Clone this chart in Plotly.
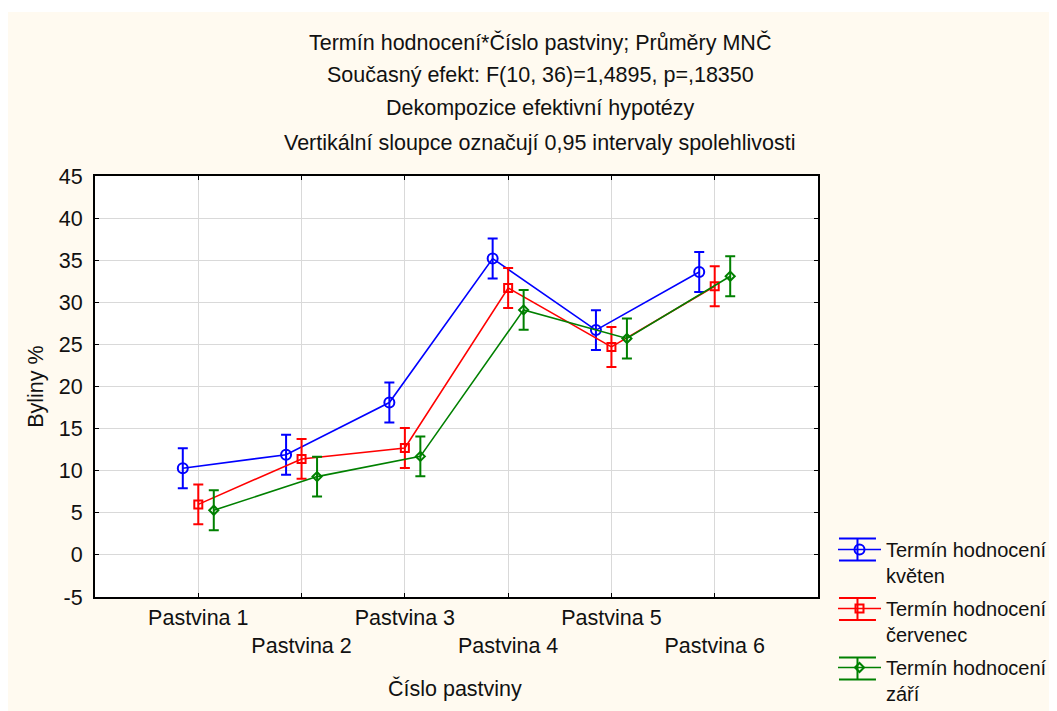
import plotly.graph_objects as go

categories = ["Pastvina 1", "Pastvina 2", "Pastvina 3", "Pastvina 4", "Pastvina 5", "Pastvina 6"]
series_names = ["Termín hodnocení<br>květen", "Termín hodnocení<br>červenec", "Termín hodnocení<br>září"]
kveten = [10.3, 11.9, 18.1, 35.2, 26.7, 33.6]
cervenec = [6.0, 11.4, 12.7, 31.7, 24.7, 31.9]
zari = [5.3, 9.3, 11.7, 29.1, 25.7, 33.1]
ci_kveten = [2.37, 2.37, 2.37, 2.37, 2.37, 2.37]
ci_cervenec = [2.37, 2.37, 2.37, 2.37, 2.37, 2.37]
ci_zari = [2.37, 2.37, 2.37, 2.37, 2.37, 2.37]
y_ticks = [-5, 0, 5, 10, 15, 20, 25, 30, 35, 40, 45]
title_lines = [
    "Termín hodnocení*Číslo pastviny; Průměry MNČ",
    "Současný efekt: F(10, 36)=1,4895, p=,18350",
    "Dekompozice efektivní hypotézy",
    "Vertikální sloupce označují 0,95 intervaly spolehlivosti",
]
x_title = "Číslo pastviny"
y_title = "Byliny %"

FONT = "Liberation Sans, Arial, sans-serif"
FS = 21.5
LFS = 20
CREAM = "#FFFAF0"
TXT = "#111111"

series = [
    (series_names[0], kveten, ci_kveten, "#0000FF", "circle-open", 10, -0.15),
    (series_names[1], cervenec, ci_cervenec, "#FF0000", "square-open", 8, 0.0),
    (series_names[2], zari, ci_zari, "#008000", "diamond-open", 7, 0.15),
]

fig = go.Figure()
for k, (name, vals, ci, color, sym, msize, off) in enumerate(series):
    xs = [i + 1 + off for i in range(len(categories))]
    fig.add_trace(go.Scatter(
        x=xs, y=vals, name=name, mode="lines+markers", legendgroup="g%d" % k,
        line=dict(color=color, width=1.6),
        marker=dict(symbol=sym, size=msize, color=color, line=dict(color=color, width=2)),
        error_y=dict(type="data", array=ci, visible=True, color=color, thickness=2, width=5),
    ))

# tick labels staggered on two rows
ticktext = [c if i % 2 == 0 else "<br>" + c for i, c in enumerate(categories)]

axis_common = dict(
    showgrid=True, gridcolor="#D9D9D9", gridwidth=1, zeroline=False,
    showline=True, linecolor="black", linewidth=2, mirror="ticks",
    ticks="inside", ticklen=4, tickcolor="black", tickwidth=1,
    tickfont=dict(family=FONT, size=FS, color=TXT),
)
fig.update_xaxes(range=[0, 7], tickvals=list(range(1, len(categories) + 1)),
                 ticktext=ticktext, **axis_common)
fig.update_yaxes(range=[-5, 45], tickvals=y_ticks, ticktext=[str(v) for v in y_ticks],
                 ticklabelstandoff=6, **axis_common)

# page offset (browser body margin)
OFF = 8
W, H = 1057, 711
pl, pr, pt, pb = 94.7 - OFF, 818 - OFF, 176 - OFF, 597 - OFF
L, R, T, B = pl, W - pr, pt, H - pb
pw, ph = pr - pl, pb - pt

def px(x):
    return (x - OFF - pl) / pw

def py(y):
    return (pb - (y - OFF)) / ph

shapes = [
    dict(type="rect", xref="paper", yref="paper", x0=px(0), x1=px(1070), y0=py(725), y1=py(12),
         fillcolor=CREAM, line=dict(width=0), layer="below"),
    dict(type="rect", xref="paper", yref="paper", x0=0, x1=1, y0=0, y1=1,
         fillcolor="white", line=dict(width=0), layer="below"),
]

# error-bar style decoration of legend symbols
legend_mid = [549.5, 609, 668.5]
for (name, vals, ci, color, sym, msize, off), ym in zip(series, legend_mid):
    for yy in (ym - 11, ym + 11):
        shapes.append(dict(type="line", xref="paper", yref="paper",
                           x0=px(839), x1=px(876), y0=py(yy), y1=py(yy),
                           line=dict(color=color, width=2)))
    shapes.append(dict(type="line", xref="paper", yref="paper",
                       x0=px(857.5), x1=px(857.5), y0=py(ym - 11), y1=py(ym + 11),
                       line=dict(color=color, width=2)))

annotations = []
for txt, yc in zip(title_lines, [42, 75, 108, 143]):
    annotations.append(dict(text=txt, xref="paper", yref="paper", x=px(540), y=py(yc),
                            xanchor="center", yanchor="middle", showarrow=False,
                            font=dict(family=FONT, size=FS, color=TXT)))
annotations.append(dict(text=x_title, xref="paper", yref="paper", x=px(455), y=py(688),
                        xanchor="center", yanchor="middle", showarrow=False,
                        font=dict(family=FONT, size=FS, color=TXT)))
annotations.append(dict(text=y_title, xref="paper", yref="paper", x=px(35), y=0.5,
                        xanchor="center", yanchor="middle", textangle=-90, showarrow=False,
                        font=dict(family=FONT, size=FS, color=TXT)))

fig.update_layout(
    width=W, height=H,
    margin=dict(l=L, r=R, t=T, b=B, pad=0, autoexpand=False),
    paper_bgcolor="white", plot_bgcolor="white",
    shapes=shapes, annotations=annotations,
    showlegend=True,
    legend=dict(x=px(833), y=py(530), xanchor="left", yanchor="top", valign="top",
                bgcolor="rgba(0,0,0,0)", font=dict(family=FONT, size=LFS, color=TXT),
                itemwidth=43, traceorder="grouped", tracegroupgap=4),
    font=dict(family=FONT, size=FS),
)

fig.write_html("out.html")
